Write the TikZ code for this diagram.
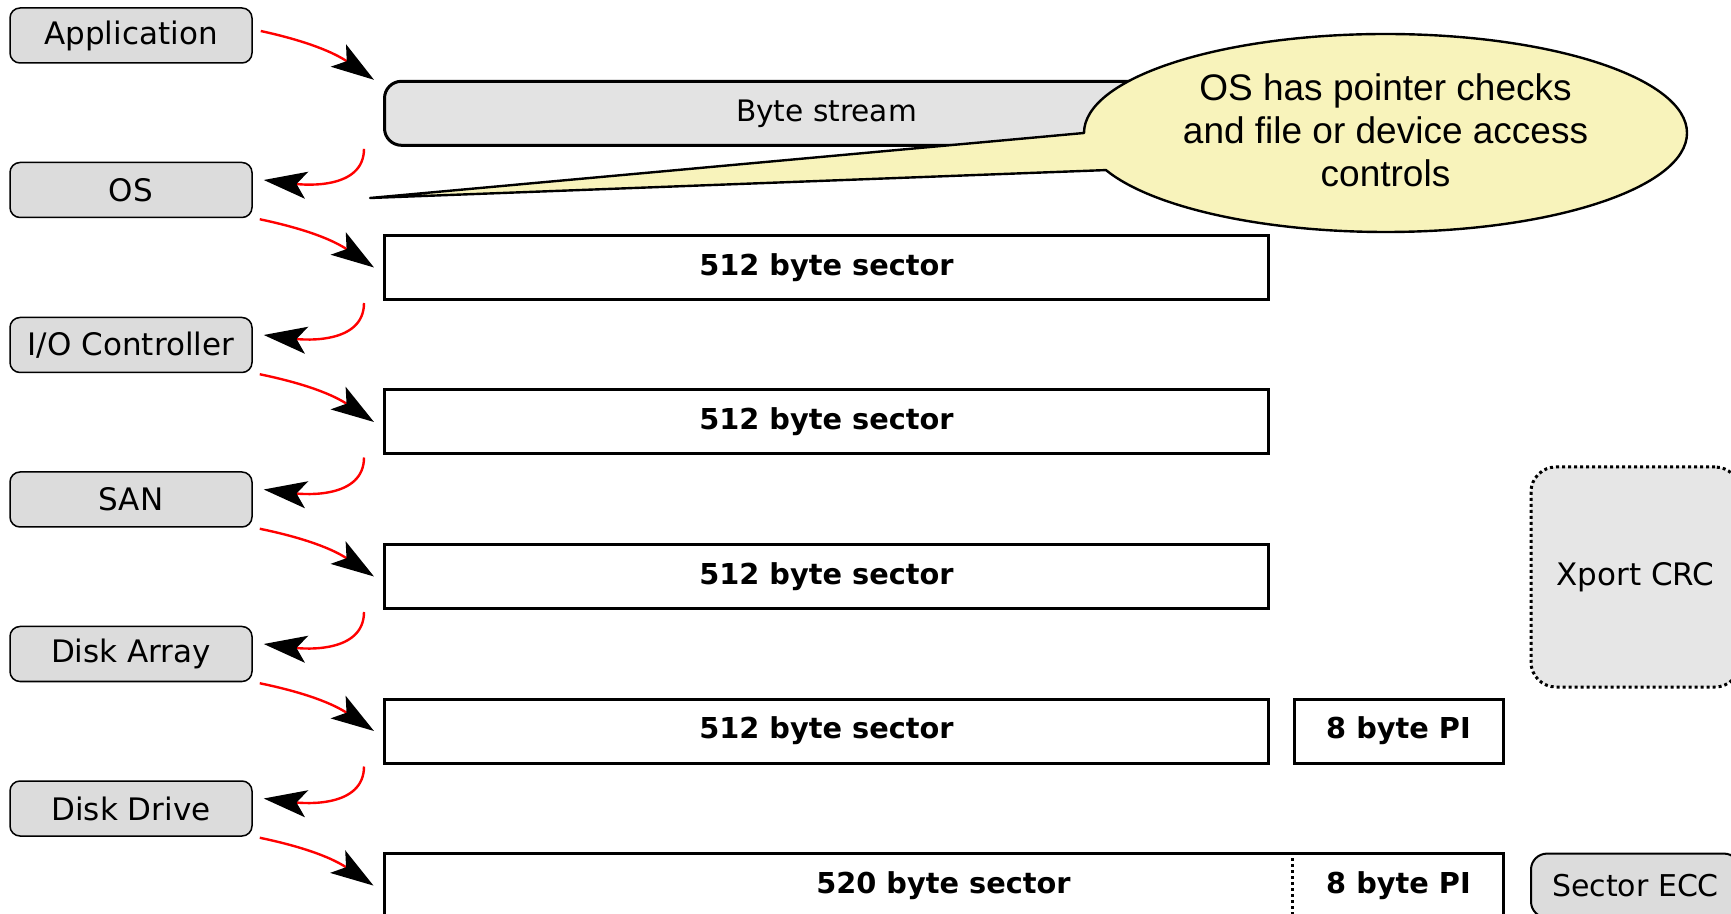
\documentclass[tikz,border=0pt]{standalone}
\usepackage{fontspec}
\setmainfont{DejaVu Sans}
\newfontfamily\notefont{Liberation Sans}
\usetikzlibrary{arrows.meta,positioning}

\definecolor{layergray}{HTML}{DCDCDC}
\definecolor{streamgray}{HTML}{E3E3E3}
\definecolor{crcgray}{HTML}{E6E6E6}
\definecolor{noteyellow}{HTML}{F8F3BB}

\tikzset{
    layer/.style={draw, line width=0.75pt, rounded corners=5pt, fill=layergray,
        minimum width=121pt, minimum height=27.5pt, inner sep=0pt,
        font=\fontsize{15.5}{18}\selectfont},
    sectorbox/.style={draw, line width=1.5pt, minimum height=32pt, inner sep=0pt,
        font=\bfseries\fontsize{14.4}{17}\selectfont},
    hop/.style={red, line width=1.2pt,
        -{Stealth[length=21.5pt, width=13.5pt, inset=5pt, color=black]}},
}

\begin{document}
\begin{tikzpicture}[x=0.5pt, y=0.5pt]
            \useasboundingbox (0, 0) rectangle (1731, -914);

            % layers on the left
            \node[layer] (app) at (131, -35.5) {Application};
            \node[layer] (os) at (131, -190) {OS};
            \node[layer] (ioc) at (131, -345) {I/O Controller};
            \node[layer] (san) at (131, -499.5) {SAN};
            \node[layer] (arr) at (131, -654) {Disk Array};
            \node[layer] (drv) at (131, -808.5) {Disk Drive};

            % data as seen by each layer
            \node[sectorbox, rounded corners=8.5pt, fill=streamgray, minimum width=442pt,
                font=\fontsize{14.8}{17}\selectfont] (bytes) at (826.5, -113.3) {Byte stream};
            \node[sectorbox, minimum width=442pt] (sec1) at (826.5, -267.5) {512 byte sector};
            \node[sectorbox, minimum width=442pt] (sec2) at (826.5, -422) {512 byte sector};
            \node[sectorbox, minimum width=442pt] (sec3) at (826.5, -576.5) {512 byte sector};
            \node[sectorbox, minimum width=442pt] (sec4) at (826.5, -731) {512 byte sector};
            \node[sectorbox, minimum width=104.5pt] (pi4) at (1398.5, -731) {8 byte PI};
            \node[sectorbox, minimum width=559.5pt] (sec5) at (943.5, -885.6) {520 byte sector};
            \node[sectorbox, draw=none, minimum width=104.5pt] (pi5) at (1398.5, -885.6) {8 byte PI};
            \draw[line width=1.5pt, dash pattern=on 1.5pt off 1.5pt] (pi5.north west) -- (pi5.south west);

            % protection on the right
            \node[draw, line width=1.5pt, dash pattern=on 1.5pt off 1.5pt, rounded corners=12.5pt, fill=crcgray,
                minimum width=104.5pt, minimum height=110pt, inner sep=0pt,
                font=\fontsize{15.5}{18}\selectfont] (crc) at (1635.5, -577) {Xport CRC};
            \node[draw, line width=1pt, rounded corners=8pt, fill=layergray,
                minimum width=104.5pt, minimum height=32pt, inner sep=0pt,
                font=\fontsize{15}{18}\selectfont] (ecc) at (1635.5, -885.6) {Sector ECC};

            % callout
            \coordinate (notetip) at (370, -198);
            \draw[fill=noteyellow, line width=1.2pt, line join=round]
                (1385.5, -133) ++(180:301.5 and 99)
                arc[start angle=180, end angle=-158, x radius=301.5, y radius=99]
                -- (notetip) -- cycle;
            \node[align=center, font=\notefont\fontsize{18.5}{21.5}\selectfont] (note) at (1385.5, -130)
                {OS has pointer checks\\and file or device access\\controls};

            % hand-over between layers
            \draw[hop] ([xshift=4pt, yshift=2.25pt]app.east) to[bend left=11] ([xshift=-4.5pt]bytes.north west);
            \foreach \src/\dst in {os/sec1, ioc/sec2, san/sec3, arr/sec4, drv/sec5}
                \draw[hop] ([xshift=3.5pt, yshift=-0.5pt]\src.south east) to[bend left=11] ([xshift=-4.5pt]\dst.west);
            \foreach \src/\dst in {bytes/os, sec1/ioc, sec2/san, sec3/arr, sec4/drv}
                \draw[hop] ([xshift=-9.5pt, yshift=-1pt]\src.south west) to[out=-90, in=-7] ([xshift=5.5pt, yshift=5pt]\dst.east);
        \end{tikzpicture}
\end{document}
